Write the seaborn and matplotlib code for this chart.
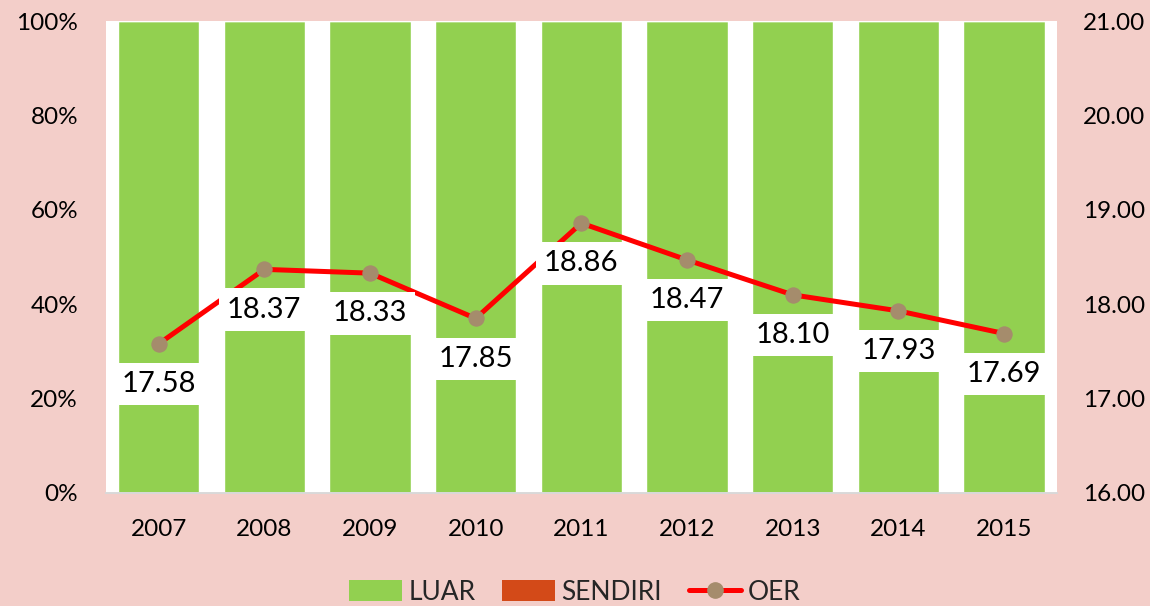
import matplotlib
matplotlib.use("Agg")
import matplotlib.pyplot as plt
import numpy as np
import pandas as pd
import seaborn as sns
from matplotlib.lines import Line2D
from matplotlib.patches import Patch
from matplotlib.ticker import FuncFormatter

years = ["2007", "2008", "2009", "2010", "2011", "2012", "2013", "2014", "2015"]
luar = [100, 100, 100, 100, 100, 100, 100, 100, 100]
sendiri = [0, 0, 0, 0, 0, 0, 0, 0, 0]
oer = [17.58, 18.37, 18.33, 17.85, 18.86, 18.47, 18.10, 17.93, 17.69]

GREEN = "#92D050"
ORANGE = "#D34A18"
RED = "#FF0000"
MARKER = "#A58C6C"
BG = "#F3CEC9"

sns.set_theme(style="white")
plt.rcParams["font.family"] = ["Lato", "DejaVu Sans"]

df = pd.DataFrame({"year": years, "LUAR": luar, "SENDIRI": sendiri, "OER": oer})

fig = plt.figure(figsize=(11.5, 6.06), dpi=100, facecolor=BG)
ax = fig.add_axes([0.092, 0.1865, 0.827, 0.7785])
ax.set_facecolor("white")

sns.barplot(data=df, x="year", y="LUAR", color=GREEN, width=0.77, saturation=1, ax=ax)
sns.barplot(data=df, x="year", y="SENDIRI", color=ORANGE, width=0.77, saturation=1,
            bottom=df["LUAR"], ax=ax)
ax.set_ylim(0, 100)
ax.set_xlim(-0.5, len(years) - 0.5)
ax.set_yticks([0, 20, 40, 60, 80, 100])
ax.yaxis.set_major_formatter(FuncFormatter(lambda v, _: f"{v:.0f}%"))
ax.set_xlabel("")
ax.set_ylabel("")
ax.tick_params(axis="y", length=0, labelsize=17.5, colors="black", pad=20)
ax.tick_params(axis="x", length=0, labelsize=17.5, colors="black", pad=19)

ax2 = ax.twinx()
sns.lineplot(x=np.arange(len(years)), y=df["OER"], color=RED, linewidth=3.6,
             marker="o", markersize=11, markerfacecolor=MARKER, markeredgecolor=MARKER,
             ax=ax2)
ax2.set_ylim(16, 21)
ax2.set_yticks([16, 17, 18, 19, 20, 21])
ax2.yaxis.set_major_formatter(FuncFormatter(lambda v, _: f"{v:.2f}"))
ax2.set_ylabel("")
ax2.tick_params(axis="y", length=0, labelsize=17.5, colors="black", pad=19)

for i, v in enumerate(oer):
    ax2.annotate(f"{v:.2f}", xy=(i, v), xytext=(0, -29), textcoords="offset points",
                 ha="center", va="center", fontsize=21, color="black",
                 bbox=dict(boxstyle="square,pad=0.28", facecolor="white", edgecolor="none"))

for a in (ax, ax2):
    for side in ("top", "left", "right"):
        a.spines[side].set_visible(False)
    a.spines["bottom"].set_color("#D9D9D9")
    a.spines["bottom"].set_linewidth(1.2)

handles = [
    Patch(facecolor=GREEN, edgecolor="none", label="LUAR"),
    Patch(facecolor=ORANGE, edgecolor="none", label="SENDIRI"),
    Line2D([0], [0], color=RED, linewidth=3.6, marker="o", markersize=11,
           markerfacecolor=MARKER, markeredgecolor=MARKER, label="OER"),
]
fig.legend(handles=handles, loc="center", bbox_to_anchor=(0.5, 0.023), ncol=3,
           frameon=False, fontsize=19, handlelength=2.0, handleheight=0.9,
           columnspacing=1.0, handletextpad=0.25)

fig.savefig("out.png", dpi=100, facecolor=BG)
